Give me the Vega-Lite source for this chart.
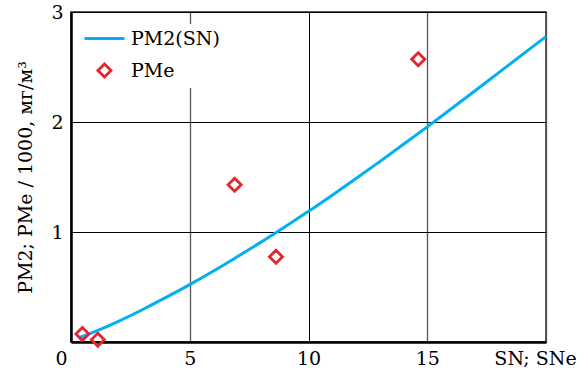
{
  "$schema": "https://vega.github.io/schema/vega-lite/v6.json",
  "width": 475,
  "height": 330,
  "autosize": {"type": "none"},
  "padding": {"left": 71, "top": 12, "right": 41, "bottom": 29},
  "background": "white",
  "config": {
    "view": {"stroke": "#222", "strokeWidth": 1.5},
    "font": "DejaVu Serif"
  },
  "data": {
    "values": [
      {"series": "PM2(SN)", "x": 0.3, "y": 0.037},
      {"series": "PM2(SN)", "x": 0.5, "y": 0.052},
      {"series": "PM2(SN)", "x": 1, "y": 0.094},
      {"series": "PM2(SN)", "x": 2, "y": 0.188},
      {"series": "PM2(SN)", "x": 3, "y": 0.293},
      {"series": "PM2(SN)", "x": 4, "y": 0.405},
      {"series": "PM2(SN)", "x": 5, "y": 0.522},
      {"series": "PM2(SN)", "x": 6, "y": 0.645},
      {"series": "PM2(SN)", "x": 7, "y": 0.775},
      {"series": "PM2(SN)", "x": 8, "y": 0.908},
      {"series": "PM2(SN)", "x": 9, "y": 1.046},
      {"series": "PM2(SN)", "x": 10, "y": 1.188},
      {"series": "PM2(SN)", "x": 11, "y": 1.335},
      {"series": "PM2(SN)", "x": 12, "y": 1.486},
      {"series": "PM2(SN)", "x": 13, "y": 1.64},
      {"series": "PM2(SN)", "x": 14, "y": 1.797},
      {"series": "PM2(SN)", "x": 15, "y": 1.956},
      {"series": "PM2(SN)", "x": 16, "y": 2.118},
      {"series": "PM2(SN)", "x": 17, "y": 2.282},
      {"series": "PM2(SN)", "x": 18, "y": 2.447},
      {"series": "PM2(SN)", "x": 19, "y": 2.612},
      {"series": "PM2(SN)", "x": 20, "y": 2.776},
      {"series": "PMe", "x": 0.48, "y": 0.073},
      {"series": "PMe", "x": 1.13, "y": 0.02},
      {"series": "PMe", "x": 6.89, "y": 1.43},
      {"series": "PMe", "x": 8.63, "y": 0.775},
      {"series": "PMe", "x": 14.62, "y": 2.57}
    ]
  },
  "encoding": {
    "x": {
      "field": "x",
      "type": "quantitative",
      "scale": {"domain": [0, 20], "nice": false, "zero": false},
      "axis": {
        "title": null,
        "values": [0, 5, 10, 15, 20],
        "labelExpr": "datum.value == 20 ? 'SN; SNe' : datum.label",
        "labelFont": "DejaVu Serif",
        "labelFontSize": 19,
        "labelColor": "black",
        "labelPadding": 7,
        "labelFlush": false,
        "labelOverlap": false,
        "labelOffset": {"condition": [{"test": "datum.value == 20", "value": -11}, {"test": "datum.value == 0", "value": -10}], "value": 0},
        "ticks": false,
        "domainColor": "black",
        "domainWidth": 2.5,
        "grid": true,
        "gridColor": {"condition": {"test": "datum.value == 10", "value": "black"}, "value": "#555"},
        "gridWidth": {"condition": {"test": "datum.value == 10", "value": 1}, "value": 1.3},
        "gridOpacity": 1
      }
    },
    "y": {
      "field": "y",
      "type": "quantitative",
      "scale": {"domain": [0, 3], "nice": false, "zero": false},
      "axis": {
        "title": "PM2; PMe / 1000, мг/м³",
        "titleFont": "DejaVu Serif",
        "titleFontSize": 19,
        "titleFontWeight": "normal",
        "titleColor": "black",
        "titlePadding": 15,
        "values": [1, 2, 3],
        "labelFont": "DejaVu Serif",
        "labelFontSize": 19,
        "labelColor": "black",
        "labelPadding": 8,
        "labelFlush": false,
        "ticks": false,
        "domainColor": "black",
        "domainWidth": 2.5,
        "grid": true,
        "gridColor": "black",
        "gridWidth": 1,
        "gridOpacity": 1
      }
    },
    "color": {
      "field": "series",
      "type": "nominal",
      "scale": {"domain": ["PM2(SN)", "PMe"], "range": ["#00b0f0", "#e3262d"]},
      "legend": {
        "title": null,
        "orient": "none",
        "legendX": 19,
        "legendY": 12,
        "fillColor": "white",
        "padding": 5,
        "labelFont": "DejaVu Serif",
        "labelFontSize": 19,
        "labelColor": "black",
        "labelOffset": 17,
        "rowPadding": 9,
        "symbolType": "stroke",
        "symbolSize": 1600,
        "encode": {
          "symbols": {
            "update": {
              "shape": {"signal": "datum.value === 'PMe' ? 'diamond' : 'stroke'"},
              "size": {"signal": "datum.value === 'PMe' ? 170 : 1600"},
              "strokeWidth": {"signal": "datum.value === 'PMe' ? 2.8 : 3"},
              "fill": {"value": "transparent"},
              "stroke": {"signal": "datum.value === 'PMe' ? '#e3262d' : '#00b0f0'"},
              "opacity": {"value": 1}
            }
          }
        }
      }
    }
  },
  "layer": [
    {
      "transform": [{"filter": "datum.series == 'PM2(SN)'"}],
      "mark": {"type": "line", "strokeWidth": 3, "interpolate": "monotone"}
    },
    {
      "transform": [{"filter": "datum.series == 'PMe'"}],
      "mark": {"type": "point", "shape": "diamond", "filled": false, "size": 170, "strokeWidth": 2.8, "opacity": 1}
    }
  ]
}
